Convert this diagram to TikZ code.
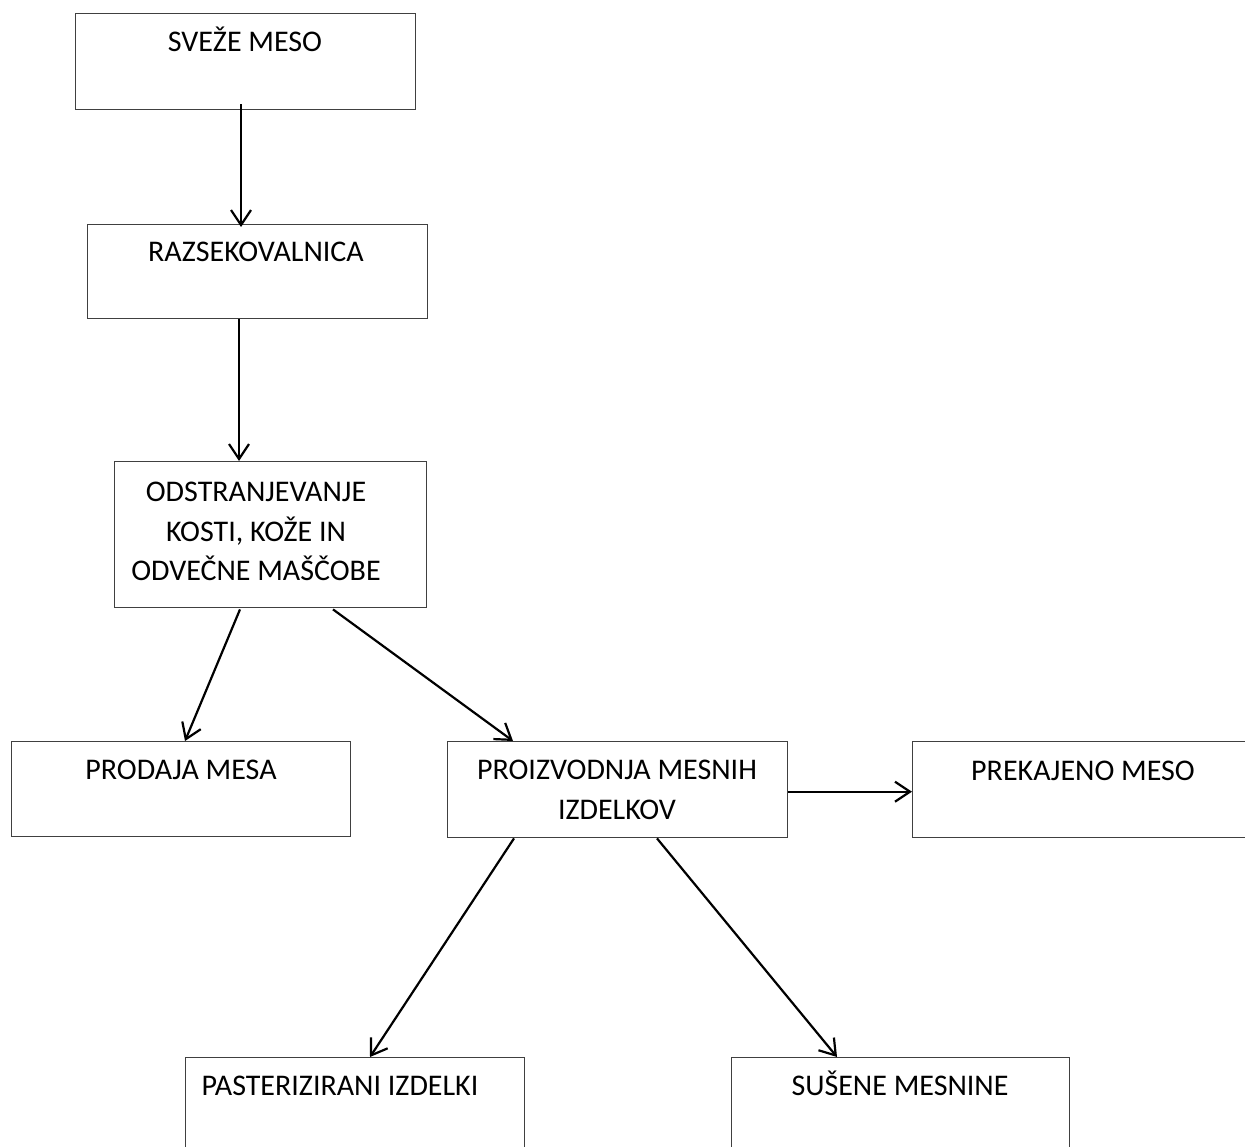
\documentclass[tikz,border=0pt]{standalone}
\usepackage{fontspec}
\setmainfont{Carlito}
\usetikzlibrary{arrows.meta}
\begin{document}
\begin{tikzpicture}[x=1pt,y=-1pt,
  box/.style={draw=black!75, line width=1.4pt, rectangle, inner sep=0pt, anchor=north west},
  lbl/.style={anchor=base, inner sep=0pt, font=\fontsize{30}{39.5}\selectfont, align=center},
  arr/.style={draw=black, line width=2.2pt, -{Straight Barb[length=15pt,width=20pt,line width=2.2pt]}}]
\useasboundingbox[fill=white] (0,0) rectangle (1245,1147);
% boxes
\node[box, minimum width=340pt, minimum height=96pt] (sveze) at (75,13) {};
\node[box, minimum width=340pt, minimum height=94pt] (raz) at (87,224) {};
\node[box, minimum width=312pt, minimum height=146pt] (odstr) at (114,461) {};
\node[box, minimum width=339pt, minimum height=95pt] (prodaja) at (11,741) {};
\node[box, minimum width=340pt, minimum height=96pt] (proizv) at (447,741) {};
\node[box, minimum width=340pt, minimum height=96pt] (prek) at (912,741) {};
\node[box, minimum width=339pt, minimum height=120pt] (past) at (185,1057) {};
\node[box, minimum width=338pt, minimum height=120pt] (susene) at (731,1057) {};
% labels
\node[lbl] (t1) at (245,52) {SVEŽE MESO};
\node[lbl] (t2) at (256,262) {RAZSEKOVALNICA};
\node[lbl] (t3a) at (256,501) {ODSTRANJEVANJE};
\node[lbl] (t3b) at (256,541) {KOSTI, KOŽE IN};
\node[lbl] (t3c) at (256,580) {ODVEČNE MAŠČOBE};
\node[lbl] (t4) at (181,779) {PRODAJA MESA};
\node[lbl] (t5a) at (617,779) {PROIZVODNJA MESNIH};
\node[lbl] (t5b) at (617,819) {IZDELKOV};
\node[lbl] (t6) at (1083,780) {PREKAJENO MESO};
\node[lbl] (t7) at (340,1095) {PASTERIZIRANI IZDELKI};
\node[lbl] (t8) at (900,1095) {SUŠENE MESNINE};
% connectors
\draw[arr] ([shift={(166,-6)}]sveze.south west) -- ([shift={(154,3)}]raz.north west);
\draw[arr] ([shift={(152,0)}]raz.south west) -- ([shift={(125,0)}]odstr.north west);
\draw[arr] ([shift={(126,1)}]odstr.south west) -- ([shift={(174,0)}]prodaja.north west);
\draw[arr] ([shift={(219,1)}]odstr.south west) -- ([shift={(66,0)}]proizv.north west);
\draw[arr] ([yshift=-2]proizv.east) -- ([yshift=-2]prek.west);
\draw[arr] ([shift={(67,0)}]proizv.south west) -- ([shift={(185,0)}]past.north west);
\draw[arr] ([shift={(210,0)}]proizv.south west) -- ([shift={(106,0)}]susene.north west);
\end{tikzpicture}
\end{document}
